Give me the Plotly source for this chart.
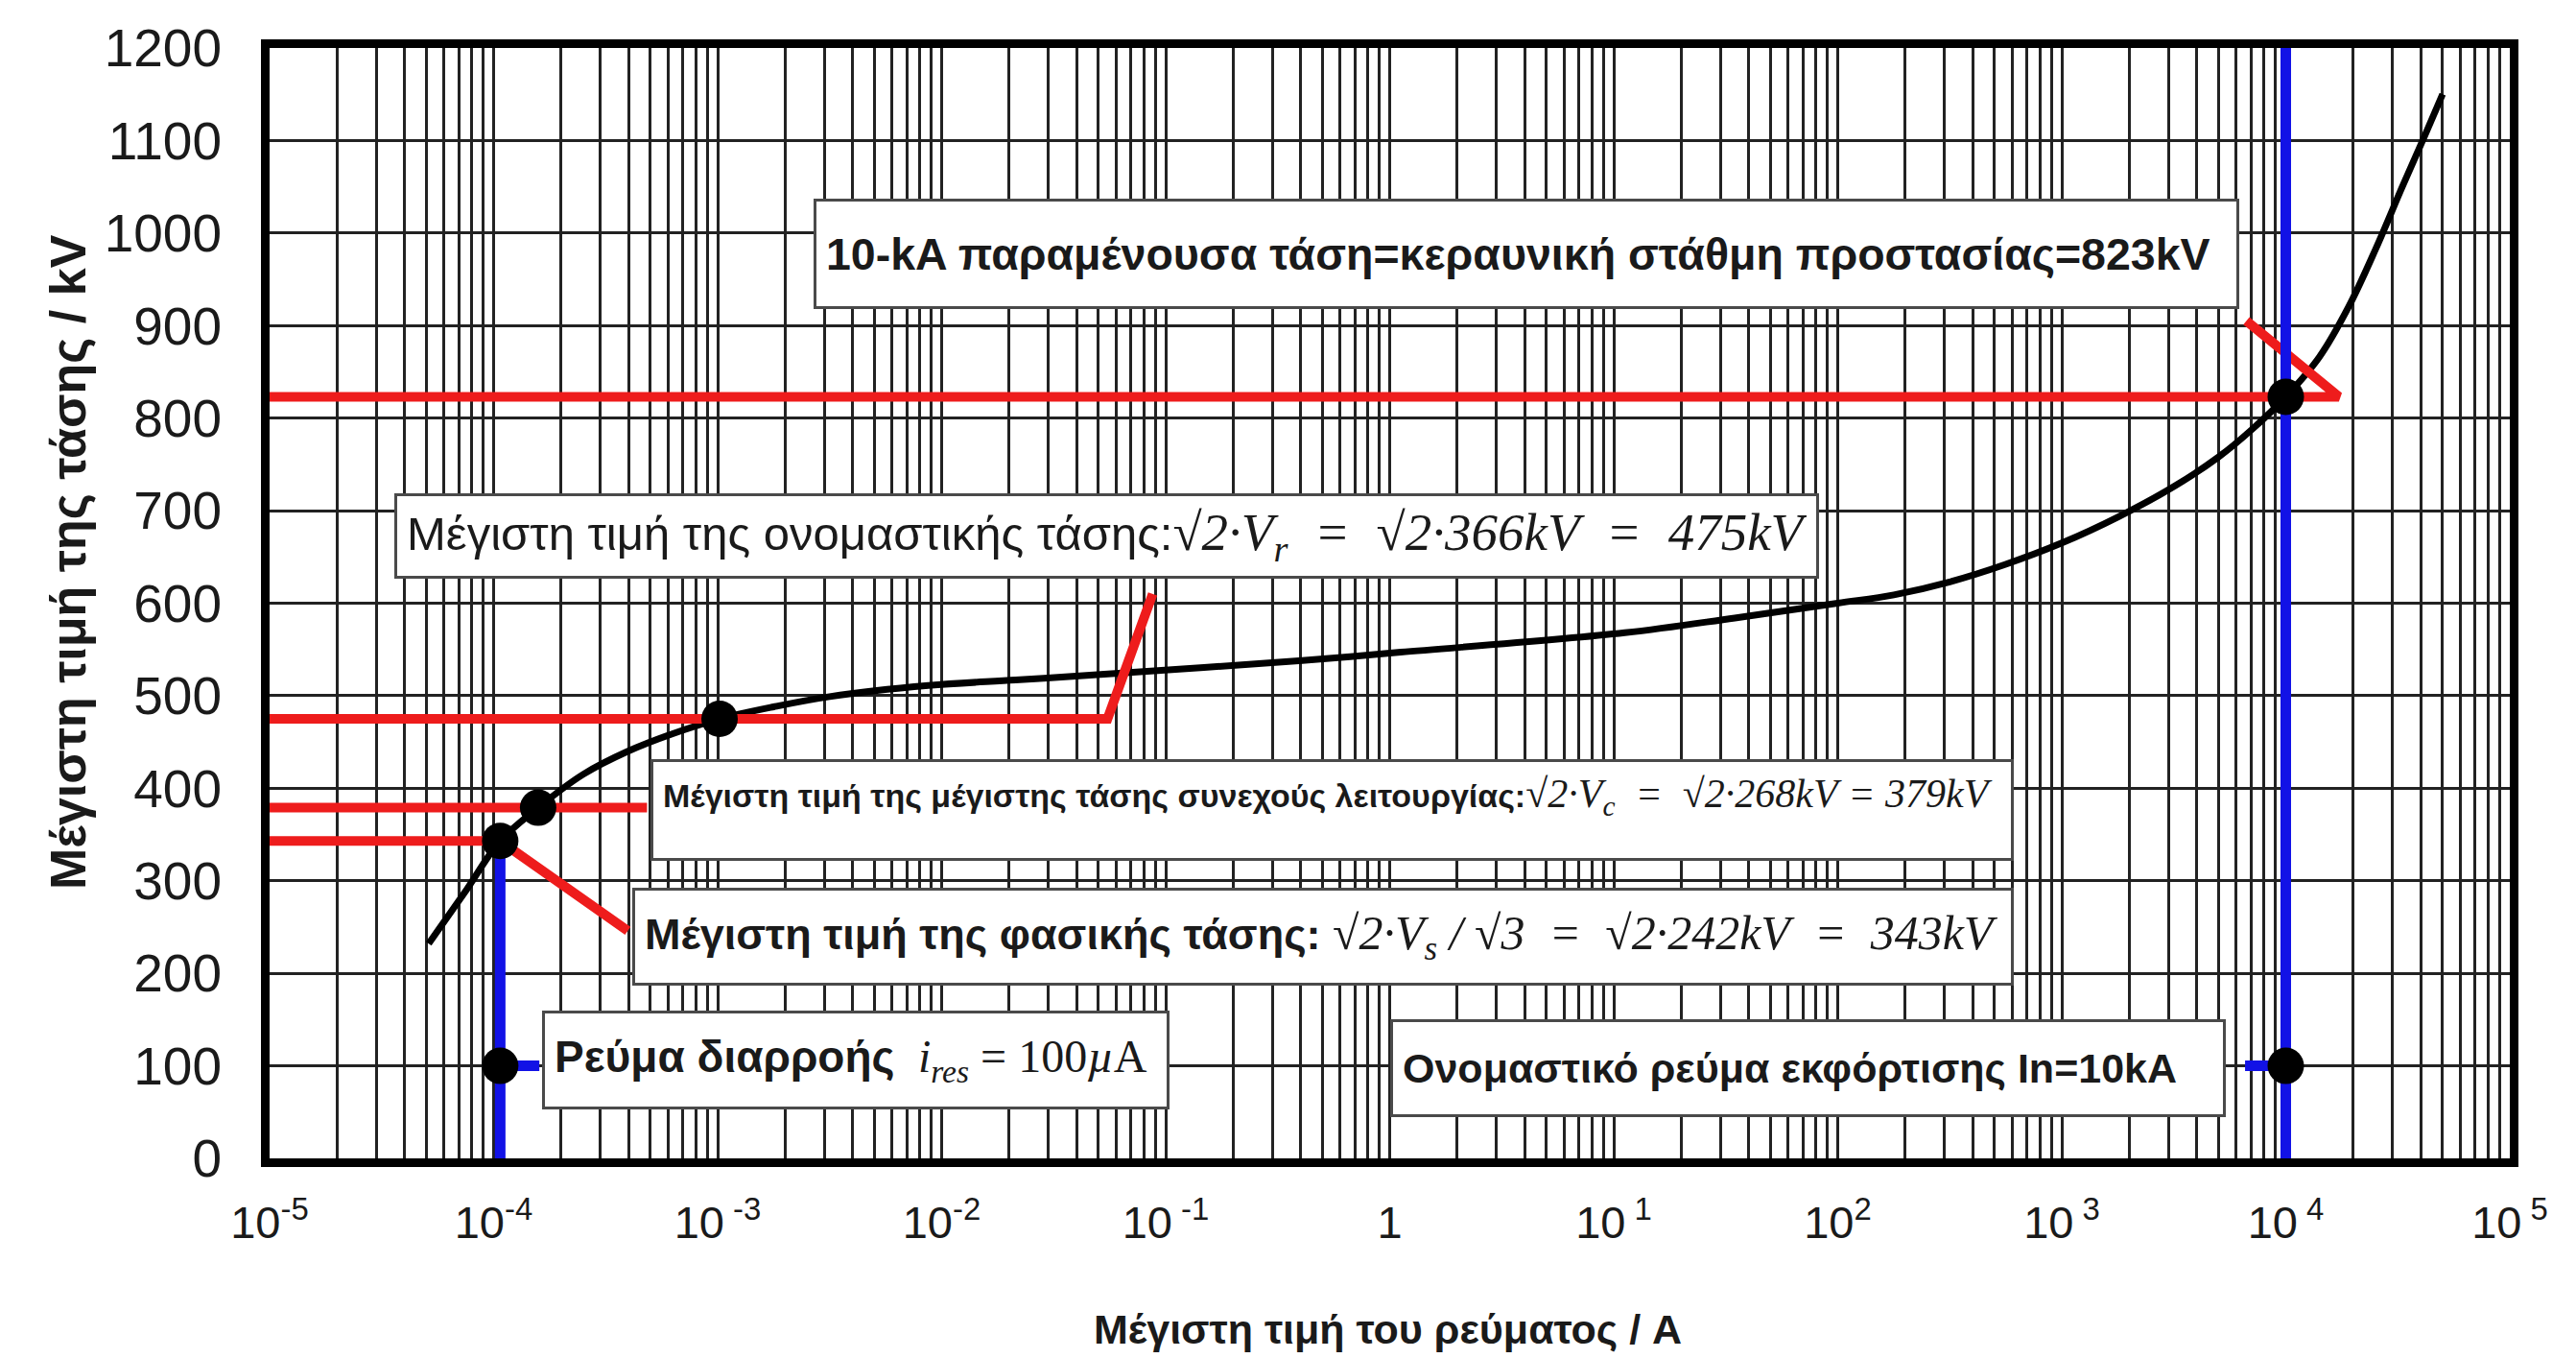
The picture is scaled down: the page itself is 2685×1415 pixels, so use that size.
import plotly.graph_objects as go

# ---------------- data ----------------
# V-I characteristic of the surge arrester (peak current in A, peak voltage in kV)
curve_current_A = [5.13e-5, 7.41e-5, 1.07e-4, 1.58e-4, 2.51e-4, 3.98e-4, 6.31e-4, 1.02e-3,
                   1.78e-3, 3.16e-3, 8.71e-3, 0.0214, 0.0513, 0.407, 1.12, 11.2, 34.7, 100,
                   178, 316, 562, 1000, 1778, 3162, 5012, 7079, 10000,
                   14125, 19055, 25119, 33113, 41687, 50119]
curve_voltage_kV = [232, 287, 343, 379, 415, 440, 459, 475,
                    488, 499, 511, 517, 523, 538, 547, 568, 584, 600,
                    609, 623, 642, 665, 693, 726, 758, 788, 823,
                    866, 920, 982, 1050, 1105, 1150]

# characteristic points
point_current_A = [1.07e-4, 1.58e-4, 1.02e-3, 10000, 1.07e-4, 10000]
point_voltage_kV = [343, 379, 475, 823, 100, 100]

# red reference lines (voltage levels + leader to label)
red_823_I = [1e-5, 17260, 6670]
red_823_V = [823, 823, 905]
red_475_I = [1e-5, 0.0550, 0.0875]
red_475_V = [475, 475, 610]
red_379_I = [1e-5, 4.84e-4]
red_379_V = [379, 379]
red_343_I = [1e-5, 1.07e-4, 3.97e-4]
red_343_V = [343, 343, 246]

# blue current markers
blue_leak_I = [1.07e-4, 1.07e-4]
blue_leak_V = [0, 343]
blue_leak_lead_I = [1.07e-4, 1.6e-4]
blue_leak_lead_V = [100, 100]
blue_in_I = [10000, 10000]
blue_in_V = [0, 1200]
blue_in_lead_I = [6580, 10000]
blue_in_lead_V = [100, 100]

x_tick_vals = [1e-5, 1e-4, 1e-3, 1e-2, 1e-1, 1, 1e1, 1e2, 1e3, 1e4, 1e5]
x_tick_text = ["10<sup>-5</sup>", "10<sup>-4</sup>", "10<sup> -3</sup>", "10<sup>-2</sup>",
               "10<sup> -1</sup>", "1", "10<sup> 1</sup>", "10<sup>2</sup>",
               "10<sup> 3</sup>", "10<sup> 4</sup>", "10<sup> 5</sup>"]
x_minor_vals = [m * 10.0 ** e for e in range(-5, 5) for m in range(2, 10)]
y_tick_vals = list(range(0, 1201, 100))

# ---------------- styling ----------------
SANS = "Liberation Sans, Arial, sans-serif"
SERIF = "Liberation Serif, Times New Roman, serif"
TXT = "#1a1a1a"
RED = "#ee1c1c"
BLUE = "#1212e6"
GRID = "#222222"

W, H = 2685, 1415
L, R, T, B = 273, 2608, 42, 1199   # plot area in px

fig = go.Figure()

fig.add_trace(go.Scatter(x=curve_current_A, y=curve_voltage_kV, mode="lines",
                         line=dict(color="black", width=7, shape="spline", smoothing=1.0),
                         hoverinfo="skip"))
for xs, ys in [(red_823_I, red_823_V), (red_475_I, red_475_V),
               (red_379_I, red_379_V), (red_343_I, red_343_V)]:
    fig.add_trace(go.Scatter(x=xs, y=ys, mode="lines",
                             line=dict(color=RED, width=10), hoverinfo="skip"))
for xs, ys in [(blue_leak_I, blue_leak_V), (blue_leak_lead_I, blue_leak_lead_V),
               (blue_in_I, blue_in_V), (blue_in_lead_I, blue_in_lead_V)]:
    fig.add_trace(go.Scatter(x=xs, y=ys, mode="lines",
                             line=dict(color=BLUE, width=11), hoverinfo="skip"))
fig.add_trace(go.Scatter(x=point_current_A, y=point_voltage_kV, mode="markers",
                         marker=dict(color="black", size=38), hoverinfo="skip"))

# ---------------- label boxes ----------------
def to_data(px_x, px_y):
    lx = (px_x - L) / (R - L) * 10 - 5
    vy = (B - px_y) / (B - T) * 1200
    return lx, vy

BW, PAD = 3, 10
def box(text, left, top, right, bottom, valign="middle"):
    x0, y0 = to_data(left, top)
    fig.add_annotation(x=x0, y=y0, xref="x", yref="y", xanchor="left", yanchor="top",
                       xshift=-8, yshift=8,
                       text=text, showarrow=False, align="left", valign=valign,
                       width=(right - left) - 2 * (BW + PAD),
                       height=(bottom - top) - 2 * (BW + PAD),
                       bgcolor="white", bordercolor="#4a4a4a", borderwidth=BW,
                       borderpad=PAD, font=dict(family=SANS, size=44, color=TXT))

NB = "\u00a0"
def ser(s, size):
    return f'<span style="font-family:{SERIF};font-size:{size}px"><i>{s}</i></span>'

box('<span style="font-size:46.5px"><b>10-kA παραμένουσα τάση=κεραυνική στάθμη προστασίας=823kV</b></span>',
    848, 207, 2334, 322)
box('<span style="font-size:49px">Μέγιστη τιμή της ονομαστικής τάσης:</span>'
    + ser(f"√2·V<sub>r</sub>{NB}{NB}={NB}{NB}√2·366kV{NB}{NB}={NB}{NB}475kV", 55),
    411, 514, 1896, 603)
box('<span style="font-size:34px"><b>Μέγιστη τιμή της μέγιστης τάσης συνεχούς λειτουργίας:</b></span>'
    + ser(f"√2·V<sub>c</sub>{NB}{NB}={NB}{NB}√2·268kV{NB}={NB}379kV", 42),
    678, 791, 2099, 897, valign="top")
box('<span style="font-size:45px"><b>Μέγιστη τιμή της φασικής τάσης:</b></span>'
    + ser(f"{NB}√2·V<sub>s</sub>{NB}/{NB}√3{NB}{NB}={NB}{NB}√2·242kV{NB}{NB}={NB}{NB}343kV", 50),
    659, 925, 2099, 1027)
box(f'<span style="font-size:46px"><b>Ρεύμα διαρροής</b></span>{NB}{NB}'
    + f'<span style="font-family:{SERIF};font-size:48px"><i>i</i><sub><i>res</i></sub>{NB}={NB}100<i>µ</i>A</span>',
    565, 1053, 1219, 1156)
box('<span style="font-size:43px"><b>Ονομαστικό ρεύμα εκφόρτισης In=10kA</b></span>',
    1449, 1062, 2320, 1164)

# axis titles
fig.add_annotation(text="<b>Μέγιστη τιμή του ρεύματος / A</b>", xref="paper", yref="paper",
                   x=(1438 - L) / (R - L), y=(B - 1377) / (B - T), xanchor="center", yanchor="middle",
                   showarrow=False, font=dict(family=SANS, size=43, color=TXT))
fig.add_annotation(text="<b>Μέγιστη τιμή της τάσης / kV</b>", xref="paper", yref="paper",
                   x=(63 - L) / (R - L), y=(B - 578) / (B - T), xanchor="center", yanchor="middle",
                   textangle=-90, showarrow=False, font=dict(family=SANS, size=52, color=TXT))

fig.update_layout(
    width=W, height=H, showlegend=False,
    paper_bgcolor="white", plot_bgcolor="white",
    margin=dict(l=L, r=W - R, t=T, b=H - B, pad=0),
    xaxis=dict(type="log", range=[-5, 5], tickvals=x_tick_vals, ticktext=x_tick_text,
               showgrid=True, gridcolor=GRID, gridwidth=2.5,
               minor=dict(tickvals=x_minor_vals, showgrid=True, gridcolor=GRID, gridwidth=2.5),
               showline=True, linecolor="black", linewidth=9, mirror=True,
               ticks="outside", ticklen=18, tickcolor="rgba(0,0,0,0)",
               tickfont=dict(family=SANS, size=47, color=TXT), zeroline=False),
    yaxis=dict(range=[0, 1200], tickvals=y_tick_vals,
               showgrid=True, gridcolor=GRID, gridwidth=2.5,
               showline=True, linecolor="black", linewidth=9, mirror=True,
               ticks="outside", ticklen=30, tickcolor="rgba(0,0,0,0)",
               tickfont=dict(family=SANS, size=55, color=TXT), zeroline=False),
)

fig.write_html("out.html")
